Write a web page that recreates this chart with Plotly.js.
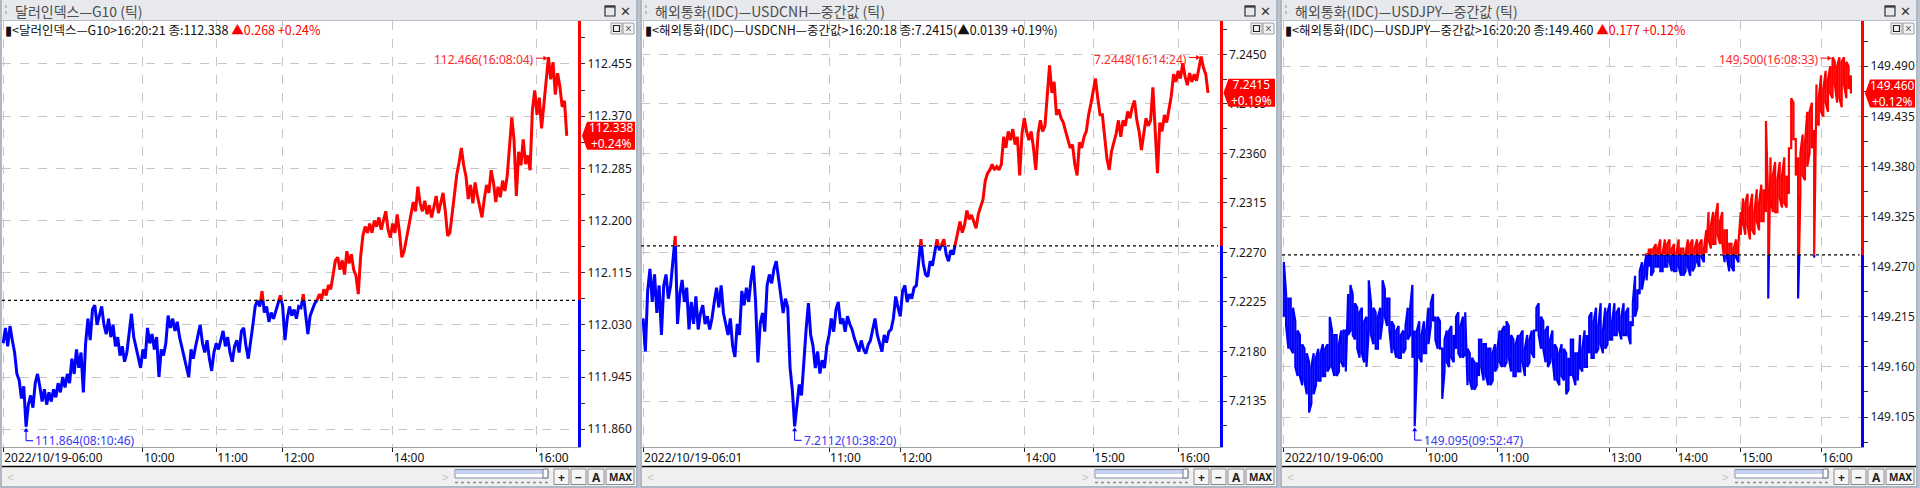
<!DOCTYPE html>
<html><head><meta charset="utf-8">
<script src="https://cdn.plot.ly/plotly-3.0.1.min.js"></script>
<style>html,body{margin:0;padding:0;background:#bcc4cf;overflow:hidden}#chart{width:1920px;height:488px}</style>
</head><body><div id="chart"></div>
<script>
// ---------------- DATA ----------------
const g10Values = [
112.000,112.025,111.995,112.028,112.005,111.985,111.950,111.940,111.910,111.930,
111.864,111.900,111.915,111.895,111.935,111.950,111.930,111.905,111.925,111.900,
111.920,111.905,111.925,111.912,111.935,111.920,111.945,111.928,111.950,111.935,
111.975,111.950,111.990,111.960,111.985,111.920,112.000,112.040,112.005,112.055,
112.062,112.030,112.045,112.060,112.030,112.015,112.040,112.010,112.030,111.995,
112.010,111.980,111.995,111.970,111.985,112.020,112.048,112.010,111.995,111.978,
111.960,111.990,111.975,112.025,112.000,112.015,111.990,112.010,111.945,111.990,
111.980,112.000,112.045,112.025,112.040,112.020,112.035,112.010,111.995,111.975,
111.960,111.945,111.990,111.975,111.995,112.010,112.030,112.000,111.985,112.005,
111.975,111.955,111.985,112.000,111.990,112.005,112.020,111.995,112.010,111.985,
111.970,111.995,112.005,111.985,112.020,112.025,111.995,111.975,112.000,112.030,
112.060,112.070,112.060,112.085,112.050,112.060,112.035,112.050,112.040,112.055,
112.065,112.078,112.060,112.005,112.040,112.060,112.045,112.055,112.040,112.060,
112.058,112.080,112.045,112.015,112.045,112.055,112.065,112.070,112.080,112.072,
112.088,112.078,112.095,112.088,112.110,112.135,112.140,112.120,112.135,112.112,
112.150,112.130,112.145,112.120,112.110,112.080,112.140,112.175,112.190,112.180,
112.195,112.180,112.200,112.190,112.205,112.185,112.200,112.215,112.185,112.172,
112.195,112.180,112.210,112.180,112.140,112.150,112.170,112.190,112.215,112.230,
112.215,112.255,112.228,112.215,112.232,112.210,112.225,112.205,112.222,112.240,
112.212,112.228,112.245,112.215,112.175,112.180,112.210,112.250,112.275,112.295,
112.318,112.290,112.272,112.235,112.258,112.228,112.262,112.240,112.225,112.205,
112.235,112.258,112.245,112.282,112.262,112.230,112.255,112.238,112.265,112.248,
112.272,112.320,112.368,112.330,112.240,112.312,112.290,112.332,112.292,112.306,
112.282,112.380,112.412,112.372,112.400,112.350,112.388,112.425,112.466,112.430,
112.458,112.405,112.440,112.418,112.385,112.395,112.338];
const g10PrevClose = 112.070;
const g10TickIdx = [0, 61, 93, 122, 170, 233];
const g10TickText = ['2022/10/19-06:00', '10:00', '11:00', '12:00', '14:00', '16:00'];

const cnhValues = [
7.2210,7.2180,7.2235,7.2255,7.2225,7.2250,7.2215,7.2240,7.2195,7.2240,
7.2250,7.2228,7.2240,7.2265,7.2285,7.2205,7.2232,7.2245,7.2225,7.2238,
7.2200,7.2225,7.2205,7.2230,7.2200,7.2215,7.2222,7.2205,7.2212,7.2200,
7.2210,7.2225,7.2238,7.2220,7.2240,7.2215,7.2205,7.2195,7.2210,7.2185,
7.2175,7.2205,7.2195,7.2235,7.2222,7.2238,7.2225,7.2245,7.2258,7.2225,
7.2170,7.2205,7.2215,7.2198,7.2240,7.2250,7.2242,7.2255,7.2262,7.2245,
7.2230,7.2215,7.2228,7.2220,7.2165,7.2145,7.2112,7.2130,7.2150,7.2140,
7.2175,7.2200,7.2224,7.2195,7.2185,7.2165,7.2180,7.2160,7.2172,7.2165,
7.2185,7.2195,7.2210,7.2198,7.2218,7.2225,7.2205,7.2210,7.2198,7.2212,
7.2205,7.2200,7.2192,7.2185,7.2180,7.2190,7.2182,7.2178,7.2186,7.2190,
7.2200,7.2210,7.2195,7.2188,7.2180,7.2195,7.2188,7.2198,7.2200,7.2210,
7.2230,7.2220,7.2212,7.2235,7.2240,7.2225,7.2232,7.2228,7.2238,7.2240,
7.2262,7.2282,7.2260,7.2250,7.2248,7.2262,7.2258,7.2270,7.2282,7.2272,
7.2278,7.2282,7.2268,7.2262,7.2272,7.2268,7.2278,7.2288,7.2298,7.2288,
7.2295,7.2308,7.2300,7.2304,7.2298,7.2292,7.2305,7.2312,7.2318,7.2335,
7.2342,7.2345,7.2350,7.2345,7.2348,7.2345,7.2350,7.2375,7.2365,7.2380,
7.2372,7.2382,7.2368,7.2375,7.2340,7.2378,7.2392,7.2380,7.2372,7.2380,
7.2365,7.2345,7.2378,7.2390,7.2380,7.2385,7.2410,7.2440,7.2415,7.2425,
7.2395,7.2400,7.2392,7.2388,7.2380,7.2372,7.2365,7.2368,7.2350,7.2340,
7.2370,7.2365,7.2375,7.2380,7.2395,7.2405,7.2415,7.2428,7.2410,7.2395,
7.2395,7.2375,7.2355,7.2345,7.2362,7.2370,7.2378,7.2390,7.2375,7.2390,
7.2385,7.2398,7.2392,7.2402,7.2408,7.2390,7.2380,7.2363,7.2380,7.2392,
7.2385,7.2390,7.2420,7.2385,7.2342,7.2388,7.2380,7.2395,7.2388,7.2400,
7.2412,7.2432,7.2425,7.2435,7.2428,7.2442,7.2430,7.2422,7.2433,7.2425,
7.2432,7.2426,7.2436,7.2448,7.2438,7.2432,7.2415];
const cnhPrevClose = 7.2276;
const cnhTickIdx = [0, 81, 112, 166, 196, 233];
const cnhTickText = ['2022/10/19-06:01', '11:00', '12:00', '14:00', '15:00', '16:00'];

// USDJPY: per compressed tick column, the closing tick and the opposite extreme reached in that column
const jpyValues = [
149.275,149.205,149.235,149.180,149.225,149.160,149.200,149.150,149.185,149.145,
149.175,149.110,149.160,149.130,149.170,149.145,149.175,149.150,149.180,149.155,
149.215,149.160,149.195,149.150,149.185,149.165,149.200,149.155,149.195,149.250,
149.195,149.230,149.180,149.220,149.175,149.210,149.160,149.255,149.195,149.225,
149.180,149.215,149.190,149.255,149.215,149.235,149.200,149.210,149.180,149.200,
149.170,149.195,149.175,149.205,149.190,149.225,149.170,149.095,149.200,149.170,
149.195,149.175,149.200,149.185,149.230,149.210,149.190,149.215,149.180,149.125,
149.190,149.165,149.200,149.170,149.195,149.215,149.175,149.205,149.170,149.220,
149.180,149.145,149.170,149.135,149.165,149.190,149.160,149.185,149.150,149.180,
149.140,149.175,149.155,149.180,149.165,149.200,149.160,149.210,149.170,149.195,
149.150,149.185,149.155,149.195,149.165,149.180,149.160,149.190,149.175,149.200,
149.225,149.195,149.215,149.180,149.200,149.160,149.190,149.170,149.185,149.145,
149.175,149.150,149.180,149.130,149.170,149.190,149.150,149.175,149.145,149.160,
149.180,149.160,149.195,149.215,149.170,149.210,149.175,149.205,149.185,149.200,
149.180,149.220,149.190,149.210,149.195,149.220,149.200,149.215,149.195,149.220,
149.195,149.210,149.230,149.215,149.245,149.265,149.245,149.270,149.255,149.270,
149.260,149.290,149.270,149.290,149.265,149.285,149.270,149.295,149.275,149.290,
149.265,149.285,149.270,149.290,149.260,149.285,149.270,149.295,149.265,149.290,
149.275,149.295,149.280,149.290,149.285,149.300,149.315,149.295,149.325,149.305,
149.320,149.295,149.310,149.280,149.295,149.270,149.290,149.280,149.295,149.305,
149.320,149.340,149.315,149.335,149.310,149.330,149.320,149.340,149.320,149.355,
149.430,149.235,149.345,149.370,149.330,149.365,149.345,149.370,149.340,149.370,
149.400,149.455,149.410,149.370,149.235,149.395,149.370,149.405,149.380,149.440,
149.400,149.280,149.430,149.455,149.440,149.465,149.450,149.475,149.460,149.500,
149.470,149.490,149.455,149.495,149.470,149.495,149.465,149.460];
const jpyColumnExtremes = [
149.215,149.240,149.180,149.235,149.175,149.210,149.150,149.195,149.140,149.180,
149.130,149.165,149.120,149.175,149.140,149.180,149.145,149.185,149.150,149.185,
149.160,149.200,149.150,149.195,149.155,149.200,149.160,149.200,149.240,149.200,
149.240,149.190,149.225,149.170,149.225,149.165,149.215,149.200,149.230,149.185,
149.220,149.180,149.225,149.210,149.245,149.205,149.235,149.175,149.205,149.170,
149.205,149.170,149.200,149.180,149.225,149.195,149.250,149.200,149.160,149.210,
149.165,149.210,149.175,149.225,149.205,149.240,149.215,149.180,149.210,149.180,
149.155,149.200,149.160,149.205,149.165,149.180,149.220,149.170,149.215,149.175,
149.140,149.175,149.135,149.165,149.140,149.150,149.190,149.145,149.185,149.140,
149.180,149.145,149.185,149.160,149.200,149.160,149.205,149.165,149.205,149.155,
149.190,149.150,149.195,149.155,149.200,149.150,149.195,149.165,149.200,149.170,
149.200,149.230,149.180,149.210,149.165,149.205,149.165,149.200,149.145,149.180,
149.140,149.185,149.145,149.175,149.135,149.150,149.190,149.140,149.175,149.195,
149.155,149.200,149.160,149.175,149.220,149.170,149.225,149.180,149.230,149.175,
149.225,149.185,149.230,149.190,149.230,149.195,149.225,149.190,149.230,149.195,
149.225,149.185,149.205,149.260,149.225,149.240,149.275,149.260,149.285,149.290,
149.290,149.265,149.295,149.270,149.300,149.265,149.300,149.270,149.300,149.265,
149.295,149.265,149.300,149.260,149.290,149.265,149.300,149.260,149.300,149.270,
149.300,149.270,149.300,149.275,149.310,149.330,149.290,149.330,149.295,149.340,
149.295,149.330,149.275,149.310,149.265,149.295,149.265,149.300,149.275,149.330,
149.345,149.305,149.350,149.300,149.350,149.305,149.355,149.310,149.360,149.320,
149.330,149.340,149.390,149.330,149.385,149.330,149.385,149.335,149.390,149.335,
149.350,149.400,149.450,149.410,149.390,149.350,149.415,149.365,149.440,149.395,
149.450,149.420,149.470,149.425,149.480,149.435,149.485,149.440,149.490,149.455,
149.495,149.450,149.500,149.445,149.500,149.455,149.490,149.480];
const jpyPrevClose = 149.283;
const jpyTickIdx = [0, 62, 93, 142, 171, 199, 234];
const jpyTickText = ['2022/10/19-06:00', '10:00', '11:00', '13:00', '14:00', '15:00', '16:00'];

const seriesNames = ['달러인덱스—G10', '해외통화(IDC)—USDCNH—중간값', '해외통화(IDC)—USDJPY—중간값'];
const lastTimes = ['16:20:21', '16:20:18', '16:20:20'];
const maxTimes = ['16:08:04', '16:14:24', '16:08:33'];
const minTimes = ['08:10:46', '10:38:20', '09:52:47'];
const decimals = [3, 4, 3];
const yTick0 = [111.860, 7.2135, 149.105];
const yDtick = [0.085, 0.0045, 0.055];
const yRanges = [[111.831, 112.525], [7.20932, 7.24803], [149.0721, 149.5397]];

// ---------------- GEOMETRY / STYLE ----------------
const WPX = 1920, HPX = 488;
const PX = x => x / WPX;
const PY = y => 1 - y / HPX;
const PLOT_TOP = 21, PLOT_BOT = 447;
const FONT = '"Noto Sans CJK KR", "Noto Sans", sans-serif';
const NUMFONT = '"Noto Sans", "DejaVu Sans", sans-serif';
const RED = '#ff0000', BLUE = '#0000ff';

const geom = [
  {X0: 0,    W: 638, plotL: 2,    axisX: 578,    xr: [-0.5, 250.9], lw: 3.0},
  {X0: 640,  W: 638, plotL: 641,  axisX: 1219.5, xr: [-0.9, 251.0], lw: 3.0},
  {X0: 1280, W: 638, plotL: 1282, axisX: 1861,   xr: [-0.8, 251.4], lw: 2.2}
];
const panels = [
  {values: g10Values, pc: g10PrevClose, ticks: g10TickIdx, labels: g10TickText, redChange: true},
  {values: cnhValues, pc: cnhPrevClose, ticks: cnhTickIdx, labels: cnhTickText, redChange: false},
  {values: jpyValues, extremes: jpyColumnExtremes, pc: jpyPrevClose, ticks: jpyTickIdx, labels: jpyTickText, redChange: true}
];

const traces = [];
const layout = {
  width: WPX, height: HPX, margin: {l: 0, r: 0, t: 0, b: 0, pad: 0},
  paper_bgcolor: '#bcc4cf', plot_bgcolor: 'rgba(0,0,0,0)',
  showlegend: false, hovermode: false, shapes: [], annotations: []
};

function rect(x0, y0, x1, y1, fill, line, lw, layer) {
  layout.shapes.push({type: 'rect', xref: 'paper', yref: 'paper', x0: PX(x0), x1: PX(x1), y0: PY(y1), y1: PY(y0),
    fillcolor: fill || 'rgba(0,0,0,0)', line: {color: line || 'rgba(0,0,0,0)', width: line ? (lw || 1) : 0}, layer: layer || 'above'});
}
function seg(x0, y0, x1, y1, color, width, dash, layer) {
  layout.shapes.push({type: 'line', xref: 'paper', yref: 'paper', x0: PX(x0), x1: PX(x1), y0: PY(y0), y1: PY(y1),
    line: {color: color, width: width || 1, dash: dash || 'solid'}, layer: layer || 'above'});
}
function poly(pts, fill) {
  const d = pts.map((p, i) => (i ? 'L' : 'M') + PX(p[0]).toFixed(6) + ',' + PY(p[1]).toFixed(6)).join(' ') + ' Z';
  layout.shapes.push({type: 'path', xref: 'paper', yref: 'paper', path: d, fillcolor: fill, line: {width: 0}, layer: 'above'});
}
function txt(x, y, text, o) {
  o = o || {};
  layout.annotations.push({xref: 'paper', yref: 'paper', x: PX(x), y: PY(y), text: text, showarrow: false,
    xanchor: o.xa || 'left', yanchor: 'middle', align: o.align || 'left', borderpad: 0,
    font: {family: o.family || FONT, size: o.size || 12, color: o.color || '#111'}});
}

panels.forEach((p, k) => {
  const g = geom[k];
  const X0 = g.X0, W = g.W;
  const dec = decimals[k];
  const yr = yRanges[k];
  const xid = k === 0 ? 'x' : 'x' + (k + 1);
  const ybid = k === 0 ? 'y' : 'y' + (k + 1);
  const ytid = 'y' + (k + 4);
  const axKey = id => (id[0] === 'x' ? 'xaxis' : 'yaxis') + (id.length > 1 ? id.slice(1) : '');

  // tick sequence (x = compressed tick column index)
  let xs = [], vals = [];
  p.values.forEach((v, i) => {
    if (p.extremes) { xs.push(i); vals.push(p.extremes[i]); }
    xs.push(i); vals.push(v);
  });

  const toPx = (i, v) => [
    g.plotL + (i - g.xr[0]) / (g.xr[1] - g.xr[0]) * (g.axisX - g.plotL),
    PLOT_TOP + (yr[1] - v) / (yr[1] - yr[0]) * (PLOT_BOT - PLOT_TOP)
  ];
  const pcPx = toPx(0, p.pc)[1];

  // ---- chrome backgrounds ----
  rect(X0, 0, X0 + W, 488, '#ffffff', null, 0, 'below');
  rect(X0, 0, X0 + W, 21, '#e7e9ec', null, 0, 'below');
  seg(X0, 20.5, X0 + W, 20.5, '#b7bec8', 1);
  rect(X0 + 2, 467, X0 + W - 2, 486, '#f0f0f0', null, 0, 'below');
  rect(X0, 0, X0 + 2, 488, '#aeb8c5');
  rect(X0 + W - 2, 0, X0 + W, 488, '#aeb8c5');
  rect(X0, 486, X0 + W, 488, '#aeb8c5');
  seg(X0 + 2, 466.5, X0 + W - 2, 466.5, '#000000', 1.5);

  // ---- title bar ----
  seg(X0 + 6, 5, X0 + 6, 17, '#a8b0b8', 1.5, 'dot');
  txt(X0 + 14, 11, seriesNames[k] + ' (틱)', {color: '#4d4d4d', size: 14});
  rect(X0 + W - 33, 6, X0 + W - 23, 16, null, '#333333', 1.2);
  seg(X0 + W - 33, 6.6, X0 + W - 23, 6.6, '#333333', 2);
  txt(X0 + W - 13, 11, '✕', {xa: 'center', size: 13, color: '#333333', family: NUMFONT});

  // ---- mini box at plot top-right ----
  rect(X0 + W - 27, 23, X0 + W - 16, 34, '#f3f3f3', '#9a9a9a', 1);
  rect(X0 + W - 24.5, 25.5, X0 + W - 18.5, 31.5, null, '#222222', 1.2);
  rect(X0 + W - 15, 23, X0 + W - 4, 34, '#f3f3f3', '#9a9a9a', 1);
  txt(X0 + W - 9.5, 28.5, '×', {xa: 'center', size: 12, color: '#666666', family: NUMFONT});

  // ---- header ----
  const last = vals[vals.length - 1];
  const chg = last - p.pc;
  const pct = chg / p.pc * 100;
  const chgStr = '▲' + chg.toFixed(dec) + ' +' + pct.toFixed(2) + '%';
  let head = '▮&lt;' + seriesNames[k] + '&gt;' + lastTimes[k] + ' 종:' + last.toFixed(dec);
  head += p.redChange ? ' <span style="color:#ff0000">' + chgStr + '</span>' : '(' + chgStr + ')';
  txt(X0 + 4, 29, head, {size: 12.5});

  // ---- scroll bar ----
  txt(X0 + 6, 477, '&lt;', {color: '#c0c0c0', size: 12, family: NUMFONT});
  txt(X0 + 441, 477, '&gt;', {color: '#c0c0c0', size: 12, family: NUMFONT});
  rect(X0 + 455, 469.5, X0 + 548, 478, '#ffffff', '#7f8ea6', 1);
  rect(X0 + 456, 470, X0 + 543, 474, '#c7d3ee', null, 0);
  rect(X0 + 543, 469, X0 + 548, 478, '#fafafa', '#777777', 1);
  seg(X0 + 455, 482.5, X0 + 548, 482.5, '#8c8c8c', 1.5, 'dot');
  [['+', 554, 569], ['−', 571, 586], ['A', 588, 604], ['MAX', 606, 634]].forEach(b => {
    rect(X0 + b[1], 469, X0 + b[2], 484.5, '#f6f6f6', '#8c8c8c', 1);
    txt(X0 + (b[1] + b[2]) / 2, 477, '<b>' + b[0] + '</b>', {xa: 'center', size: b[0] === 'MAX' ? 10 : 12, color: '#222222', family: NUMFONT});
  });

  // ---- traces: same series, clipped by two half-axes at the previous close ----
  traces.push({type: 'scatter', mode: 'lines', x: xs, y: vals, xaxis: xid, yaxis: ybid,
    line: {color: BLUE, width: g.lw}, hoverinfo: 'skip'});
  traces.push({type: 'scatter', mode: 'lines', x: xs, y: vals, xaxis: xid, yaxis: ytid,
    line: {color: RED, width: g.lw}, hoverinfo: 'skip'});

  // ---- axes ----
  layout[axKey(xid)] = {
    domain: [PX(g.plotL), PX(g.axisX)], range: g.xr, anchor: ybid,
    tickmode: 'array', tickvals: p.ticks, ticktext: p.labels, ticklabelposition: 'outside right',
    ticks: 'outside', ticklen: 4, tickwidth: 1, tickcolor: '#222222',
    showgrid: true, gridcolor: '#c6c6c6', griddash: 'dash', gridwidth: 1,
    showline: true, linecolor: '#a0a0a0', linewidth: 1, zeroline: false,
    tickfont: {family: NUMFONT, size: 12, color: '#111111'}, fixedrange: true
  };
  const yCommon = {
    side: 'right', anchor: xid, tickmode: 'linear', tick0: yTick0[k], dtick: yDtick[k],
    tickformat: '.' + dec + 'f', ticks: 'outside', ticklen: 4, tickwidth: 1, tickcolor: '#333333',
    minor: {dtick: yDtick[k] / 2, tick0: yTick0[k], ticks: 'outside', ticklen: 4, tickwidth: 1, tickcolor: '#333333', showgrid: false},
    showgrid: true, gridcolor: '#c6c6c6', griddash: 'dash', gridwidth: 1, zeroline: false,
    showline: true, linewidth: 3, tickfont: {family: NUMFONT, size: 12, color: '#1a1a1a'}, fixedrange: true
  };
  layout[axKey(ybid)] = Object.assign({}, yCommon, {domain: [PY(PLOT_BOT), PY(pcPx)], range: [yr[0], p.pc], linecolor: BLUE});
  layout[axKey(ytid)] = Object.assign({}, yCommon, {domain: [PY(pcPx), PY(PLOT_TOP)], range: [p.pc, yr[1]], linecolor: RED});

  // ---- previous close dashed line ----
  seg(g.plotL, pcPx, g.axisX - 1.5, pcPx, '#000000', 1.2, 'dot');

  // ---- current price tag ----
  const yc = toPx(0, last)[1];
  const ax = g.axisX;
  poly([[ax + 4, yc], [ax + 9, yc - 14], [X0 + W - 3, yc - 14], [X0 + W - 3, yc + 14], [ax + 9, yc + 14]], RED);
  txt((ax + 9 + X0 + W - 3) / 2, yc, last.toFixed(dec) + '<br>+' + pct.toFixed(2) + '%',
      {xa: 'center', align: 'center', size: 12, color: '#ffffff', family: NUMFONT});

  // ---- max / min annotations ----
  let jMax = 0, jMin = 0;
  vals.forEach((v, j) => { if (v > vals[jMax]) jMax = j; if (v < vals[jMin]) jMin = j; });
  const [mx, my] = toPx(xs[jMax], vals[jMax]);
  seg(mx - 12, my + 1, mx - 4, my + 1, RED, 1);
  poly([[mx - 1, my + 1], [mx - 5, my - 1.5], [mx - 5, my + 3.5]], RED);
  txt(mx - 13, my + 2.5, vals[jMax].toFixed(dec) + '(' + maxTimes[k] + ')', {xa: 'right', color: '#ff2a2a', family: NUMFONT});

  const [nx, ny] = toPx(xs[jMin], vals[jMin]);
  seg(nx, ny + 4, nx, ny + 14, BLUE, 1);
  seg(nx, ny + 14, nx + 7, ny + 14, BLUE, 1);
  poly([[nx, ny + 1], [nx - 2.5, ny + 5], [nx + 2.5, ny + 5]], BLUE);
  txt(nx + 8, ny + 14, vals[jMin].toFixed(dec) + '(' + minTimes[k] + ')', {color: '#3a3af5', family: NUMFONT});
});

Plotly.newPlot('chart', traces, layout, {displayModeBar: false, staticPlot: true});
</script>
</body></html>
